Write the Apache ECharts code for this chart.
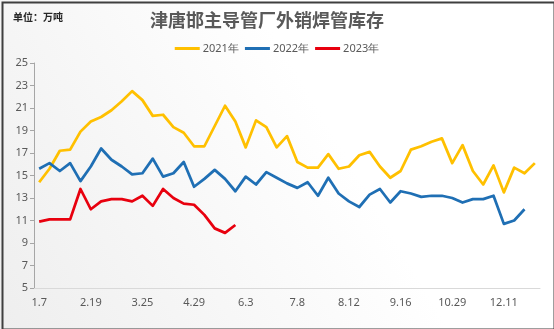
<!DOCTYPE html>
<html>
<head>
<meta charset="utf-8">
<script src="https://cdn.jsdelivr.net/npm/echarts@6/dist/echarts.min.js"></script>
<style>
  html, body { margin: 0; padding: 0; background: #fff; }
  #chart { width: 554px; height: 329px; }
</style>
</head>
<body>
<div id="chart"></div>
<script>
// Weekly reporting dates (month.day)
const categories = [
  '1.7', '1.14', '1.21', '1.28', '2.4',
  '2.19', '2.25', '3.4', '3.11', '3.18',
  '3.25', '4.1', '4.8', '4.15', '4.22',
  '4.29', '5.6', '5.13', '5.20', '5.27',
  '6.3', '6.10', '6.17', '6.24', '7.1',
  '7.8', '7.15', '7.22', '7.29', '8.5',
  '8.12', '8.19', '8.26', '9.2', '9.9',
  '9.16', '9.23', '9.30', '10.15', '10.22',
  '10.29', '11.5', '11.12', '11.19', '11.26',
  '12.11', '12.18', '12.25', '12.31'
];

// Inventory, 10k tonnes
const y2021 = [
  14.4, 15.6, 17.2, 17.3, 18.9, 19.8, 20.2, 20.8, 21.6, 22.5,
  21.7, 20.3, 20.4, 19.3, 18.8, 17.6, 17.6, 19.4, 21.2, 19.8,
  17.5, 19.9, 19.3, 17.5, 18.5, 16.2, 15.7, 15.7, 16.9, 15.6,
  15.8, 16.8, 17.1, 15.8, 14.8, 15.4, 17.3, 17.6, 18.0, 18.3,
  16.1, 17.7, 15.4, 14.2, 15.9, 13.5, 15.7, 15.2, 16.1
];
const y2022 = [
  15.6, 16.1, 15.4, 16.1, 14.5, 15.8, 17.4, 16.4, 15.8, 15.1,
  15.2, 16.5, 14.9, 15.2, 16.2, 14.0, 14.7, 15.5, 14.7, 13.6,
  14.9, 14.2, 15.3, 14.8, 14.3, 13.9, 14.4, 13.2, 14.8, 13.4,
  12.7, 12.2, 13.3, 13.8, 12.6, 13.6, 13.4, 13.1, 13.2, 13.2,
  13.0, 12.6, 12.9, 12.9, 13.2, 10.7, 11.0, 12.0
];
const y2023 = [
  10.9, 11.1, 11.1, 11.1, 13.8, 12.0, 12.7, 12.9, 12.9, 12.7,
  13.2, 12.3, 13.8, 13.0, 12.5, 12.4, 11.5, 10.3, 9.9, 10.6
];

const seriesNames = ['2021年', '2022年', '2023年'];
const seriesColors = ['#FFC000', '#1F6FB4', '#E8000E'];
const seriesData = [y2021, y2022, y2023];

const chart = echarts.init(document.getElementById('chart'), null, { renderer: 'canvas' });

const option = {
  animation: false,
  backgroundColor: {
    type: 'linear', x: 0, y: 1, x2: 1, y2: 0,
    colorStops: [
      { offset: 0, color: '#eeeeee' },
      { offset: 0.6, color: '#ffffff' },
      { offset: 1, color: '#ffffff' }
    ]
  },
  title: {
    text: '津唐邯主导管厂外销焊管库存',
    left: 262, textAlign: 'center', top: 6,
    textStyle: {
      fontFamily: 'Noto Sans CJK SC', fontSize: 18, fontWeight: 'bold', color: '#595959'
    }
  },
  graphic: [
    {
      type: 'text', left: 13, top: 12,
      style: {
        text: '单位：万吨', fontFamily: 'Noto Sans CJK SC', fontSize: 10,
        fontWeight: 'bold', fill: '#262626'
      }
    },
    {
      type: 'rect', left: 0, top: 0, silent: true,
      shape: { x: 0, y: 0, width: 552, height: 327 },
      style: { fill: 'none', stroke: '#3f3f3f', lineWidth: 2 },
      position: [1, 1]
    }
  ],
  legend: {
    top: 38, left: 'center',
    icon: 'rect', itemWidth: 25, itemHeight: 3, itemGap: 6,
    textStyle: { fontFamily: 'Noto Sans', fontSize: 11, color: '#595959', padding: [0, 0, 0, -2] },
    data: seriesNames
  },
  grid: { left: 34, right: 14, top: 63, bottom: 41 },
  xAxis: {
    type: 'category',
    data: categories,
    boundaryGap: true,
    axisLine: { lineStyle: { color: '#d9d9d9', width: 1 } },
    axisTick: { show: false },
    axisLabel: {
      interval: 4, color: '#595959', fontFamily: 'Noto Sans', fontSize: 11, margin: 9
    }
  },
  yAxis: {
    type: 'value', min: 5, max: 25, interval: 2,
    axisLine: { show: true, lineStyle: { color: '#a6a6a6' } },
    axisTick: { show: true, length: 4, lineStyle: { color: '#a6a6a6' } },
    splitLine: { show: false },
    axisLabel: { color: '#595959', fontFamily: 'Noto Sans', fontSize: 11, margin: 6 }
  },
  series: seriesNames.map((name, k) => ({
    name: name,
    type: 'line',
    data: seriesData[k],
    showSymbol: false,
    symbol: 'none',
    color: seriesColors[k],
    lineStyle: { width: 2.75, color: seriesColors[k], join: 'round' }
  }))
};

chart.setOption(option);
</script>
</body>
</html>
